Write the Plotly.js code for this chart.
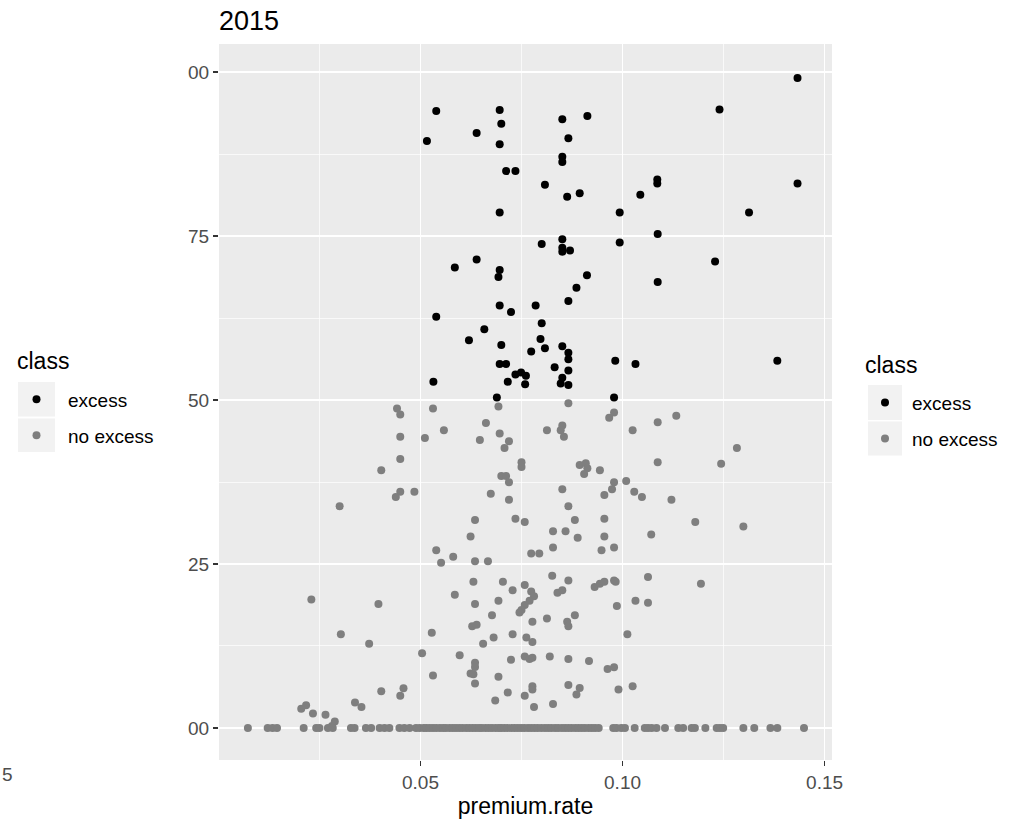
<!DOCTYPE html>
<html>
<head>
<meta charset="utf-8">
<script src="https://cdn.plot.ly/plotly-3.0.1.min.js"></script>
<style>html,body{margin:0;padding:0;background:#fff;}#chart{width:1009px;height:821px;}</style>
</head>
<body>
<div id="chart"></div>
<script>
// ---- data ----
const classNames = ["excess", "no excess"];
const xTickVals = [0.05, 0.10, 0.15];
const xTickText = ["0.05", "0.10", "0.15"];
const yTickVals = [0, 25, 50, 75, 100];
const yTickText = ["00", "25", "50", "75", "00"];

const excessRate = [0.0696,0.0539,0.0700,0.0639,0.0516,0.0696,0.0712,0.0735,0.0696,0.0639,0.0585,0.0696,0.0693,0.0696,0.0724,0.0539,0.0658,0.0620,0.0700,0.0696,0.0712,0.0735,0.0749,0.0761,0.0532,0.0716,0.0759,0.0689,0.1433,0.1240,0.0851,0.0913,0.0866,0.0851,0.0851,0.1086,0.1086,0.1433,0.0808,0.0863,0.0894,0.1044,0.0993,0.1313,0.1087,0.0851,0.0800,0.0993,0.0851,0.0851,0.0870,0.1229,0.1087,0.0912,0.0886,0.0866,0.0785,0.0800,0.0797,0.0774,0.0808,0.0851,0.0866,0.0866,0.0982,0.1032,0.1383,0.0832,0.0866,0.0851,0.0847,0.0866,0.0979];
const excessValue = [94.2,94.05,92.1,90.7,89.5,89.0,84.9,84.9,78.6,71.4,70.2,69.8,68.75,64.4,63.4,62.7,60.8,59.1,58.4,55.5,55.5,53.9,54.2,53.7,52.8,52.8,52.4,50.4,99.1,94.3,92.8,93.3,89.9,87.1,86.3,83.6,83.0,83.0,82.8,81.0,81.5,81.3,78.6,78.6,75.3,74.5,73.8,74.0,73.2,72.6,72.8,71.1,68.0,69.0,67.1,65.1,64.4,61.7,59.3,57.4,57.9,58.2,57.2,56.2,56.0,55.5,56.0,55.0,54.5,53.4,52.5,52.3,50.4];

const noExcessRate = [
  0.0442,0.0450,0.0531,0.0693,0.0662,0.0558,0.0450,0.0511,0.0647,0.0696,0.0719,0.0708,0.0450,0.0750,0.0750,0.0403,0.0700,0.0712,0.0719,0.0450,0.0439,0.0485,0.0674,0.0719,0.0300,0.0635,0.0735,0.0758,0.0624,0.0539,0.0581,0.0551,0.0635,0.0667,
  0.0866,0.0979,0.0967,0.1133,0.1087,0.0813,0.0851,0.0847,0.0855,0.1025,0.1283,0.1087,0.1244,0.0894,0.0909,0.0913,0.0905,0.0944,0.0979,0.0974,0.1009,0.0851,0.0955,0.1029,0.1048,0.1121,0.0866,0.0882,0.0955,0.1180,0.1299,0.0828,0.0859,0.0889,0.0955,0.1071,0.0828,0.0948,0.0979,0.0774,0.0794,
  0.0631,0.0704,0.0758,0.0728,0.0585,0.0230,0.0396,0.0635,0.0693,0.0758,0.0750,0.0745,0.0677,0.0628,0.0639,0.0528,0.0303,0.0681,0.0728,0.0762,0.0373,0.0655,0.0504,0.0597,0.0635,0.0635,0.0624,0.0631,0.0724,0.0758,0.0531,0.0693,0.0635,0.0403,0.0458,0.0450,0.0716,0.0758,0.0685,0.0338,0.0354,0.0217,0.0205,0.0234,0.0265,0.0288,0.0281,
  0.0826,0.0866,0.1063,0.1194,0.0774,0.0781,0.0931,0.0944,0.0955,0.0979,0.0983,0.0839,0.0851,0.0770,0.0986,0.1032,0.1063,0.0777,0.0813,0.0863,0.0866,0.0882,0.0777,0.1012,0.0770,0.0777,0.0820,0.0866,0.0917,0.0963,0.0979,0.0777,0.0777,0.0866,0.0894,0.0886,0.0990,0.1025,0.0781,0.0828
];
const noExcessValue = [
  48.7,47.8,48.7,49.0,46.5,45.4,44.4,44.2,43.9,44.9,43.7,42.7,41.0,40.5,39.8,39.3,38.4,38.4,37.45,36.0,35.2,36.0,35.7,34.8,33.8,31.7,31.9,31.4,29.2,27.1,26.1,25.2,25.4,25.4,
  49.5,48.1,47.3,47.6,46.6,45.4,46.1,45.4,44.4,45.4,42.7,40.5,40.3,40.1,40.35,39.6,38.7,39.3,37.45,36.4,37.65,36.4,35.5,36.0,35.2,34.8,33.8,31.7,31.9,31.4,30.7,30.0,30.0,29.0,29.2,29.5,27.5,27.1,27.5,26.6,26.6,
  22.3,22.3,21.8,21.0,20.3,19.6,18.9,18.9,19.4,18.75,18.0,17.6,17.2,15.5,15.75,14.5,14.3,13.8,14.3,13.8,12.85,12.85,11.4,11.1,9.95,9.3,8.3,8.2,10.4,10.9,8.0,7.8,6.8,5.6,6.05,4.9,5.4,4.9,4.2,3.9,3.2,3.45,2.95,2.2,2.0,1.0,0.3,
  23.2,22.5,23.0,22.0,20.8,20.1,21.5,22.0,22.3,22.5,22.3,20.6,21.0,19.4,18.6,19.4,19.1,16.2,16.7,16.2,15.5,17.2,13.1,14.3,10.5,10.7,10.9,10.5,10.2,9.0,9.25,6.35,5.85,6.55,6.1,5.1,5.85,6.35,3.2,3.65
];
const zeroRowRate = [
  0.0073,0.0122,0.0134,0.0145,0.0211,0.0242,0.0250,0.0271,0.0283,0.0328,0.0337,0.0365,0.0378,0.0399,
  0.0411,0.0423,0.0448,0.0460,0.0473,0.0489,0.0498,0.0508,0.0515,0.0523,0.0531,0.0539,0.0548,0.0556,
  0.0563,0.0572,0.0580,0.0588,0.0596,0.0604,0.0613,0.0621,0.0629,0.0637,0.0645,0.0652,0.0661,0.0669,
  0.0677,0.0686,0.0694,0.0700,0.0708,0.0716,0.0725,0.0733,0.0741,0.0749,0.0757,0.0766,0.0774,0.0782,
  0.0790,0.0799,0.0808,0.0816,0.0824,0.0833,0.0841,0.0850,0.0858,0.0866,0.0874,0.0883,0.0891,0.0899,
  0.0907,0.0916,0.0924,0.0932,0.0941,0.0977,0.0985,0.0997,0.1006,0.1030,0.1055,0.1063,0.1072,0.1084,
  0.1105,0.1138,0.1150,0.1171,0.1179,0.1205,0.1233,0.1241,0.1249,0.1299,0.1326,0.1366,0.1383,0.1449
];
const zeroRowValue = [
  0,0,0,0,0,0,0,0,0,0,0,0,0,0,
  0,0,0,0,0,0,0,0,0,0,0,0,0,0,
  0,0,0,0,0,0,0,0,0,0,0,0,0,0,
  0,0,0,0,0,0,0,0,0,0,0,0,0,0,
  0,0,0,0,0,0,0,0,0,0,0,0,0,0,
  0,0,0,0,0,0,0,0,0,0,0,0,0,0,
  0,0,0,0,0,0,0,0,0,0,0,0,0,0
];

// ---- styling / layout ----
const FONT = "Liberation Sans, Arial, Helvetica, sans-serif";
const COL_EXCESS = "#000000";
const COL_NO = "#7F7F7F";
const MARKER = 8;
const L = 219, R = 832, T = 44, B = 760;
const fx = p => (p - L) / (R - L);
const fy = p => (B - p) / (B - T);

const traces = [
  { type: "scatter", mode: "markers", name: classNames[1],
    x: noExcessRate.concat(zeroRowRate), y: noExcessValue.concat(zeroRowValue),
    marker: { color: COL_NO, size: MARKER }, showlegend: false, hoverinfo: "x+y" },
  { type: "scatter", mode: "markers", name: classNames[0],
    x: excessRate, y: excessValue,
    marker: { color: COL_EXCESS, size: MARKER }, showlegend: false, hoverinfo: "x+y" }
];

// legends drawn as keys + text, two copies (left and right)
const shapes = [], annotations = [];
function legendBlock(titleX, titleY, boxX0, boxX1, boxes, labelX) {
  annotations.push({ xref: "paper", yref: "paper", x: fx(titleX), y: fy(titleY), xanchor: "left", yanchor: "middle",
    text: "class", showarrow: false, font: { family: FONT, size: 23, color: "#000" } });
  boxes.forEach((b, i) => {
    shapes.push({ type: "rect", xref: "paper", yref: "paper", x0: fx(boxX0), x1: fx(boxX1), y0: fy(b[1]), y1: fy(b[0]),
      fillcolor: "#F2F2F2", line: { width: 0 }, layer: "below" });
    const cx = (boxX0 + boxX1) / 2, cy = (b[0] + b[1]) / 2, r = MARKER / 2;
    shapes.push({ type: "circle", xref: "paper", yref: "paper", x0: fx(cx - r), x1: fx(cx + r), y0: fy(cy + r), y1: fy(cy - r),
      fillcolor: i === 0 ? COL_EXCESS : COL_NO, line: { width: 0 } });
    annotations.push({ xref: "paper", yref: "paper", x: fx(labelX), y: fy(cy + 1), xanchor: "left", yanchor: "middle",
      text: classNames[i], showarrow: false, font: { family: FONT, size: 19, color: "#000" } });
  });
}
legendBlock(15, 361, 18, 55, [[382, 416.5], [418.5, 452]], 66);
legendBlock(863, 365, 868, 902, [[385, 420], [421.5, 455.5]], 910);

// stray "5" at the lower left edge of the picture
annotations.push({ xref: "paper", yref: "paper", x: fx(0), y: fy(774), xanchor: "left", yanchor: "middle",
  text: "5", showarrow: false, font: { family: FONT, size: 19, color: "#4D4D4D" } });

const layout = {
  width: 1009, height: 821,
  margin: { l: L, r: 1009 - R, t: T, b: 821 - B, pad: 0 },
  paper_bgcolor: "#FFFFFF", plot_bgcolor: "#EBEBEB",
  font: { family: FONT, color: "#000" },
  title: { text: "2015", font: { family: FONT, size: 27, color: "#000" },
           xref: "paper", x: 0, xanchor: "left", yref: "container", y: 1 - 21 / 821, yanchor: "middle" },
  showlegend: false,
  xaxis: {
    range: [0.00015, 0.15183], tickmode: "array", tickvals: xTickVals, ticktext: xTickText,
    ticks: "outside", ticklen: 5, tickwidth: 1.2, tickcolor: "#333333",
    tickfont: { family: FONT, size: 19, color: "#4D4D4D" },
    showgrid: true, gridcolor: "#FFFFFF", gridwidth: 1.4, zeroline: false, showline: false,
    minor: { tickmode: "array", tickvals: [0.025, 0.075, 0.125], showgrid: true, gridcolor: "#FFFFFF", gridwidth: 0.7, ticks: "" },
    title: { text: "premium.rate", font: { family: FONT, size: 23, color: "#000" }, standoff: 6 },
    automargin: false
  },
  yaxis: {
    range: [-4.88, 104.27], tickmode: "array", tickvals: yTickVals, ticktext: yTickText,
    ticks: "outside", ticklen: 5, tickwidth: 1.2, tickcolor: "#333333",
    tickfont: { family: FONT, size: 19, color: "#4D4D4D" },
    showgrid: true, gridcolor: "#FFFFFF", gridwidth: 1.4, zeroline: false, showline: false,
    minor: { tickmode: "array", tickvals: [12.5, 37.5, 62.5, 87.5], showgrid: true, gridcolor: "#FFFFFF", gridwidth: 0.7, ticks: "" },
    automargin: false
  },
  shapes: shapes,
  annotations: annotations
};

Plotly.newPlot("chart", traces, layout, { displayModeBar: false, staticPlot: true });
</script>
</body>
</html>
